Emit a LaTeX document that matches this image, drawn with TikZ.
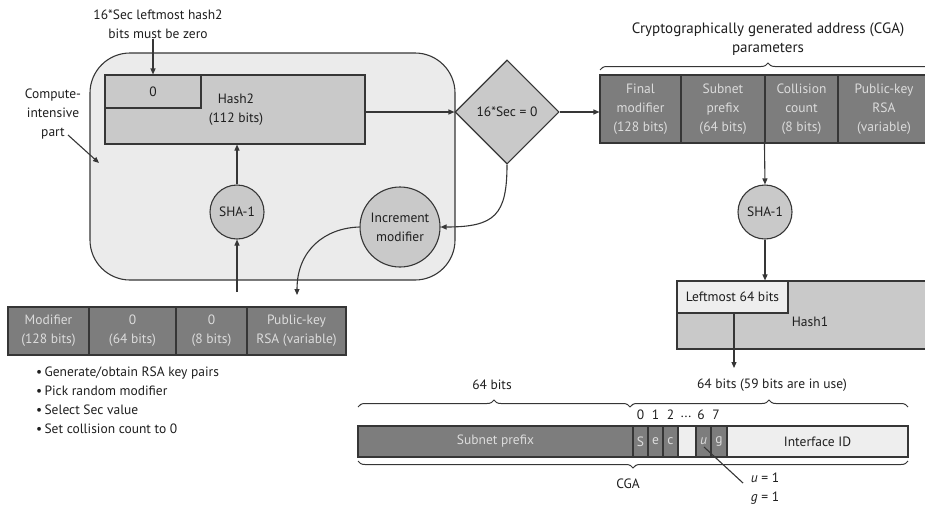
\documentclass[tikz,border=0pt]{standalone}
\usepackage{fontspec}
\setmainfont{PT Sans}
\usetikzlibrary{shapes.geometric,arrows.meta,decorations.pathreplacing}
\definecolor{linec}{HTML}{363636}
\definecolor{regionc}{HTML}{EBEBEB}
\definecolor{midc}{HTML}{C9C9C9}
\definecolor{darkc}{HTML}{7D7D7D}
\definecolor{darkt}{HTML}{DCDCDC}
\definecolor{lightc}{HTML}{EEEEEE}
\definecolor{txt}{HTML}{1E1E1E}
\tikzset{
  box/.style={draw=linec, line width=1.1pt, inner sep=0pt, align=center, text=txt},
  darkbox/.style={box, fill=darkc, text=darkt},
  midbox/.style={box, fill=midc},
  lightbox/.style={box, fill=lightc},
  lbl/.style={inner sep=0pt, align=center, text=txt},
  arr/.style={draw=linec, line width=1.1pt, -{Triangle[length=6pt,width=5pt]}},
  ln/.style={draw=linec, line width=1.1pt},
  brc/.style={draw=linec, line width=1pt, decorate, decoration={brace, amplitude=7pt}},
}
\begin{document}
\begin{tikzpicture}[x=1pt,y=-1pt,font=\fontsize{13.5}{19}\selectfont]
\useasboundingbox (0,0) rectangle (925,509);

% compute-intensive region
\node[box, fill=regionc, rounded corners=40pt, minimum width=365pt, minimum height=227pt] (reg) at (272.5,166.5) {};

% Hash2
\node[midbox, minimum width=260pt, minimum height=69pt] (h2) at (235,109.5) {};
\node[midbox, minimum width=96pt, minimum height=33pt] (zero) at (153,91.5) {0};
\node[lbl] (h2l) at (236,110) {Hash2\\(112 bits)};

% top label
\node[lbl] (toplbl) at (158,24) {16*Sec leftmost hash2\\bits must be zero};
\draw[arr] (toplbl.south -| zero.north) -- (zero.north);

% compute-intensive label
\node[lbl] (cil) at (53,114) {Compute-\\intensive\\part};
\coordinate (cia) at (68,135);
\coordinate (cib) at (99,163);
\draw[arr] (cia) -- (cib);

% SHA-1 (left)
\node[midbox, circle, minimum size=54pt] (shaA) at (237,212) {SHA-1};
\draw[arr] (shaA.north) -- (shaA.north |- h2.south);
\coordinate (inA) at (237,292);
\draw[arr] (inA) -- (shaA.south);

% Increment modifier
\node[midbox, circle, minimum size=80pt] (inc) at (400,227) {Increment\\modifier};

% diamond
\node[midbox, diamond, minimum width=104pt, minimum height=104pt, aspect=1] (dia) at (507,112) {16*Sec = 0};
\draw[arr] (h2.east |- dia.west) -- (dia.west);
\draw[arr] (dia.south) .. controls (507,215) and (495,227) .. (inc.east);
\coordinate (incout) at (297,295);
\draw[arr] (inc.west) .. controls (325,228) and (297,250) .. (incout);

% initial parameters box
\node[darkbox, minimum width=81pt, minimum height=48pt] (m1) at (48.5,331) {Modifier\\(128 bits)};
\node[darkbox, minimum width=87pt, minimum height=48pt] (m2) at (132.5,331) {0\\(64 bits)};
\node[darkbox, minimum width=71pt, minimum height=48pt] (m3) at (211.5,331) {0\\(8 bits)};
\node[darkbox, minimum width=99pt, minimum height=48pt] (m4) at (296.5,331) {Public-key\\RSA (variable)};

% bullets
\node[lbl, align=left, anchor=north west] (bul) at (36,367) {\textbullet\,Generate/obtain RSA key pairs\\\textbullet\,Pick random modifier\\\textbullet\,Select Sec value\\\textbullet\,Set collision count to 0};

% CGA parameters
\node[darkbox, minimum width=81pt, minimum height=68pt] (fm) at (640.5,109) {Final\\modifier\\(128 bits)};
\node[darkbox, minimum width=84pt, minimum height=68pt] (sp) at (723,109) {Subnet\\prefix\\(64 bits)};
\node[darkbox, minimum width=73pt, minimum height=68pt] (cc) at (801.5,109) {Collision\\count\\(8 bits)};
\node[darkbox, minimum width=92pt, minimum height=68pt] (pk) at (884,109) {Public-key\\RSA\\(variable)};
\draw[arr] (dia.east) -- (dia.east -| fm.west);
\draw[brc] (600,70) -- (936,70);
\node[lbl, font=\fontsize{15}{19}\selectfont] (cgat) at (768,39) {Cryptographically generated address (CGA)\\parameters};

% SHA-1 (right)
\node[midbox, circle, minimum size=54pt] (shaB) at (765,212) {SHA-1};
\draw[arr] (cc.south west) -- (shaB.north);

% Hash1
\node[midbox, minimum width=253pt, minimum height=68pt] (h1) at (803.5,315) {};
\node[lightbox, minimum width=111pt, minimum height=32pt] (lm) at (732.5,297) {Leftmost 64 bits};
\node[lbl] (h1l) at (810,322) {Hash1};
\draw[arr] (shaB.south) -- (shaB.south |- h1.north);
\coordinate (h1out) at (734,368);
\draw[arr] (lm.south -| h1out) -- (h1out);

% CGA bar
\node[lbl] (b64a) at (492,385) {64 bits};
\node[lbl] (b64b) at (772,385) {64 bits (59 bits are in use)};
\draw[brc] (358,407) -- (630,407);
\draw[brc] (630,407) -- (908,407);

\node[darkbox, minimum width=275pt, minimum height=31pt] (snp) at (495.5,441.5) {Subnet prefix};
\node[darkbox, minimum width=15pt, minimum height=31pt] (bS) at (640.5,441.5) {S};
\node[darkbox, minimum width=15pt, minimum height=31pt] (bE) at (655.5,441.5) {e};
\node[darkbox, minimum width=15pt, minimum height=31pt] (bC) at (670.5,441.5) {c};
\node[lightbox, minimum width=18pt, minimum height=31pt] (bgap) at (687,441.5) {};
\node[darkbox, minimum width=15pt, minimum height=31pt] (bU) at (703.5,441.5) {\itshape u};
\node[darkbox, minimum width=16pt, minimum height=31pt] (bG) at (719,441.5) {g};
\node[lightbox, minimum width=181pt, minimum height=31pt] (iid) at (817.5,441.5) {Interface ID};

\node[lbl] (d0) at (640.5,415) {0};
\node[lbl] (d1) at (655.5,415) {1};
\node[lbl] (d2) at (670.5,415) {2};
\node[lbl] (dd) at (686,417) {...};
\node[lbl] (d6) at (701,415) {6};
\node[lbl] (d7) at (716,415) {7};

\draw[brc] (908,461) -- (358,461);
\node[lbl] (cgal) at (628,484) {CGA};

\coordinate (ulstart) at (704,447);
\coordinate (ulend) at (743,483);
\draw[ln] (ulstart) -- (ulend);
\node[lbl] (ug) at (765,489) {\itshape u\upshape\ = 1\\\itshape g\upshape\ = 1};
\end{tikzpicture}
\end{document}
